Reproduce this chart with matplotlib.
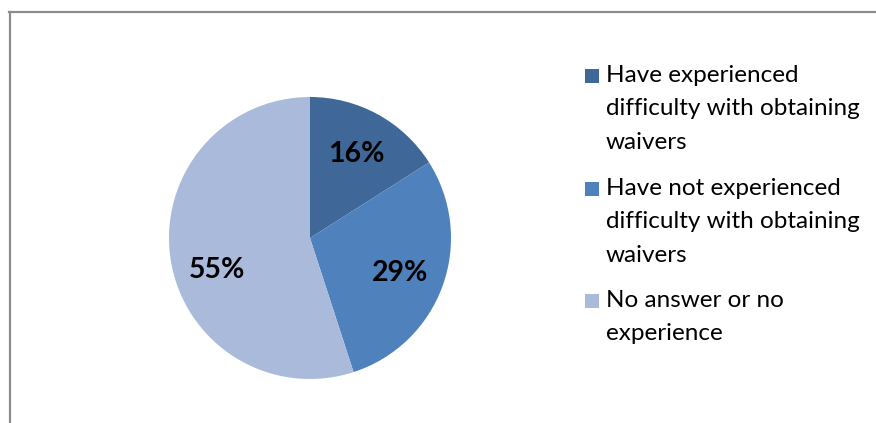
import matplotlib
matplotlib.use("Agg")
import matplotlib.pyplot as plt
from matplotlib.lines import Line2D
from matplotlib.patches import Rectangle

# data
labels = ["Have experienced\ndifficulty with obtaining\nwaivers",
          "Have not experienced\ndifficulty with obtaining\nwaivers",
          "No answer or no\nexperience"]
values = [16, 29, 55]
colors = ["#3F6797", "#4F81BD", "#A9BADA"]

W, H = 876, 423
plt.rcParams['font.family'] = ['Lato', 'DejaVu Sans']
fig = plt.figure(figsize=(W / 100, H / 100), dpi=100)

# frame of the chart area (cut on the right and bottom)
fig.add_artist(Line2D([9.5 / W, 9.5 / W], [0, 1 - 12 / H], color="#8C8C8C", lw=1.6))
fig.add_artist(Line2D([9 / W, 1], [1 - 12.5 / H, 1 - 12.5 / H], color="#8C8C8C", lw=1.6))

# pie, centre (310, 238) px, radius 141 px
cx, cy, r = 310, 238, 141
ax = fig.add_axes([(cx - r) / W, (H - cy - r) / H, 2 * r / W, 2 * r / H])
wedges, texts, autotexts = ax.pie(values, colors=colors, startangle=90, counterclock=False,
                                  autopct="%d%%", pctdistance=0.68,
                                  textprops=dict(fontsize=20.5, fontweight="bold", color="black"))
# excel puts the big-slice labels a bit lower
autotexts[1].set_position((0.64, -0.25))
autotexts[2].set_position((-0.66, -0.23))
ax.set_xlim(-1, 1)
ax.set_ylim(-1, 1)
ax.set_aspect("equal")
ax.axis("off")

# legend
ys = [76, 189, 301]
for lab, col, y in zip(labels, colors, ys):
    fig.add_artist(Rectangle((585 / W, 1 - (y + 7) / H), 14 / W, 14 / H,
                             transform=fig.transFigure, facecolor=col, edgecolor="none"))
    fig.text(606 / W, 1 - (y - 11) / H, lab, fontsize=17.5, va="top", ha="left",
             linespacing=1.73, color="black")

fig.savefig("out.png", dpi=100)
